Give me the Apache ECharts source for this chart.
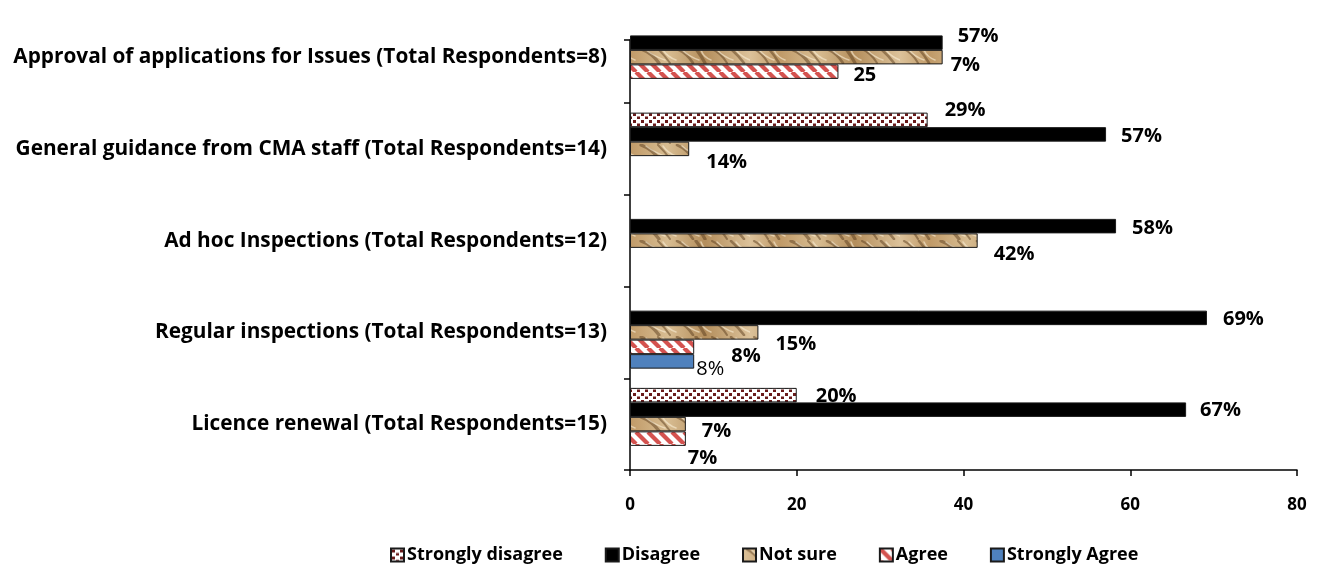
<!DOCTYPE html>
<html>
<head>
<meta charset="utf-8">
<script src="https://cdn.jsdelivr.net/npm/echarts@6/dist/echarts.min.js"></script>
<style>
  html, body { margin: 0; padding: 0; background: #ffffff; }
  #chart { width: 1320px; height: 575px; }
</style>
</head>
<body>
<div id="chart"></div>
<script>
// Survey groups, top row first
const categories = [
  'Approval of applications for Issues (Total Respondents=8)',
  'General guidance from CMA staff (Total Respondents=14)',
  'Ad hoc Inspections (Total Respondents=12)',
  'Regular inspections (Total Respondents=13)',
  'Licence renewal (Total Respondents=15)'
];
const seriesNames = ['Strongly disagree', 'Disagree', 'Not sure', 'Agree', 'Strongly Agree'];

// Share of respondents (%) per group; null = nobody gave that answer
const stronglyDisagree = [null, 35.7, null, null, 20.0];
const disagree         = [37.5, 57.1, 58.3, 69.2, 66.7];
const notSure          = [37.5, 7.1, 41.7, 15.4, 6.7];
const agree            = [25.0, null, null, 7.7, 6.7];
const stronglyAgree    = [null, null, null, 7.7, null];

// Printed data labels
const stronglyDisagreeLabels = [null, '29%', null, null, '20%'];
const disagreeLabels         = ['57%', '57%', '58%', '69%', '67%'];
const notSureLabels          = ['7%', '14%', '42%', '15%', '7%'];
const agreeLabels            = ['25', null, null, '8%', '7%'];
const stronglyAgreeLabels    = [null, null, null, '8%', null];

const xTicks = [0, 20, 40, 60, 80];

// Label nudges [dx, dy] from the bar end (layout only)
const labelNudge = {
  'Strongly disagree': [null, [17, -10], null, null, [19, 1]],
  'Disagree':          [[15, -6], [15, 2], [16, 2], [16, 1], [14, 1]],
  'Not sure':          [[8, 8], [17, 13], [16, 14], [17, 12], [16, 7]],
  'Agree':             [[15, 4], null, null, [37, 9], [2, 20]],
  'Strongly Agree':    [null, null, null, [2, 8], null]
};

const FONT = '"Open Sans", "Lato", sans-serif';

// ---- fill patterns -------------------------------------------------------
function makeCanvas(w, h) {
  const c = document.createElement('canvas');
  c.width = w; c.height = h;
  return c;
}
function dotPattern() {
  const c = makeCanvas(8, 7), g = c.getContext('2d');
  g.fillStyle = '#ffffff'; g.fillRect(0, 0, 8, 7);
  g.fillStyle = '#6a1a1a';
  g.fillRect(1, 1, 3, 3);
  g.fillRect(5, 4.5, 3, 3);
  return c;
}
function stripePattern() {
  const s = 12, c = makeCanvas(s, s), g = c.getContext('2d');
  g.fillStyle = '#ffffff'; g.fillRect(0, 0, s, s);
  g.strokeStyle = '#d4524f'; g.lineWidth = 4.2;
  for (let k = -s; k <= s; k += s) {
    g.beginPath(); g.moveTo(k, 0); g.lineTo(k + s, s); g.stroke();
  }
  return c;
}
function tanPattern() {
  const w = 150, h = 16, c = makeCanvas(w, h), g = c.getContext('2d');
  const grd = g.createLinearGradient(0, 0, w, 0);
  grd.addColorStop(0, '#dcc29a');
  grd.addColorStop(0.2, '#c09a68');
  grd.addColorStop(0.45, '#d8bd92');
  grd.addColorStop(0.7, '#b48e5c');
  grd.addColorStop(1, '#dcc29a');
  g.fillStyle = grd; g.fillRect(0, 0, w, h);
  g.lineCap = 'round';
  const starts = [4, 19, 41, 58, 77, 96, 112, 131];
  const spans = [14, 10, 18, 12, 16, 9, 15, 13];
  starts.forEach((x0, i) => {
    const d = spans[i];
    g.strokeStyle = 'rgba(92,62,30,0.5)'; g.lineWidth = 2 + (i % 3) * 0.6;
    g.beginPath(); g.moveTo(x0, 1); g.quadraticCurveTo(x0 + d * 0.6, 5 + (i % 2) * 3, x0 + d, 15); g.stroke();
    g.strokeStyle = 'rgba(250,238,214,0.6)'; g.lineWidth = 1.5;
    g.beginPath(); g.moveTo(x0 + 5, 2); g.quadraticCurveTo(x0 + d * 0.8, 9, x0 + d + 6, 12); g.stroke();
  });
  return c;
}

const fills = {
  'Strongly disagree': { image: dotPattern(), repeat: 'repeat' },
  'Disagree': '#000000',
  'Not sure': { image: tanPattern(), repeat: 'repeat' },
  'Agree': { image: stripePattern(), repeat: 'repeat' },
  'Strongly Agree': '#4f81bd'
};

const seriesValues = [stronglyDisagree, disagree, notSure, agree, stronglyAgree];
const seriesLabels = [stronglyDisagreeLabels, disagreeLabels, notSureLabels, agreeLabels, stronglyAgreeLabels];

const series = seriesNames.map((name, s) => ({
  name: name,
  type: 'bar',
  xAxisIndex: 0,
  yAxisIndex: 0,
  barWidth: 14.5,
  barGap: '0%',
  itemStyle: { color: fills[name], borderColor: '#1a1a1a', borderWidth: 1 },
  label: {
    show: true,
    position: 'right',
    distance: 0,
    fontFamily: FONT,
    fontWeight: name === 'Strongly Agree' ? 'normal' : 'bold',
    fontSize: 20,
    color: '#000000'
  },
  data: seriesValues[s].map((v, i) => v == null ? null : {
    value: v,
    label: {
      show: seriesLabels[s][i] != null,
      formatter: seriesLabels[s][i] || '',
      offset: labelNudge[name][i] || [14, 0]
    }
  })
}));

// hidden series that lets the second grid own an axis pair
series.push({ type: 'line', xAxisIndex: 1, yAxisIndex: 1, data: [], silent: true });

const chart = echarts.init(document.getElementById('chart'), null, { renderer: 'canvas' });
chart.setOption({
  backgroundColor: '#ffffff',
  animation: false,
  grid: [
    { left: 630, right: 23, top: 11.25, bottom: 105, containLabel: false },
    { left: 630, right: 23, top: 40, bottom: 105, containLabel: false }
  ],
  xAxis: [
    {
      type: 'value',
      gridIndex: 0,
      min: xTicks[0],
      max: xTicks[xTicks.length - 1],
      interval: xTicks[1] - xTicks[0],
      axisLine: { show: true, lineStyle: { color: '#000', width: 1.5 } },
      axisTick: { show: true, length: 6, lineStyle: { color: '#000', width: 1.5 } },
      splitLine: { show: false },
      axisLabel: { fontFamily: FONT, fontWeight: 'bold', fontSize: 17, color: '#000', margin: 27 }
    },
    {
      type: 'value', gridIndex: 1, min: 0, max: 80, show: false
    }
  ],
  yAxis: [
    {
      type: 'category',
      gridIndex: 0,
      inverse: true,
      data: categories,
      axisLine: { show: false },
      axisTick: { show: false },
      axisLabel: { fontFamily: FONT, fontWeight: 'bold', fontSize: 20.8, color: '#000', margin: 23 }
    },
    {
      // visible vertical axis line with ticks between the groups
      type: 'value',
      gridIndex: 1,
      min: 0,
      max: 4.687,
      interval: 1,
      axisLine: { show: true, lineStyle: { color: '#000', width: 1.5 } },
      axisTick: { show: true, length: 6, lineStyle: { color: '#000', width: 1.5 } },
      axisLabel: { show: false },
      splitLine: { show: false }
    }
  ],
  legend: {
    data: seriesNames,
    bottom: 6,
    left: 385,
    itemWidth: 13,
    itemHeight: 13,
    itemGap: 42,
    icon: 'rect',
    textStyle: { fontFamily: FONT, fontWeight: 'bold', fontSize: 18, color: '#000', padding: [0, 0, 0, -2] }
  },
  series: series
});
</script>
</body>
</html>
